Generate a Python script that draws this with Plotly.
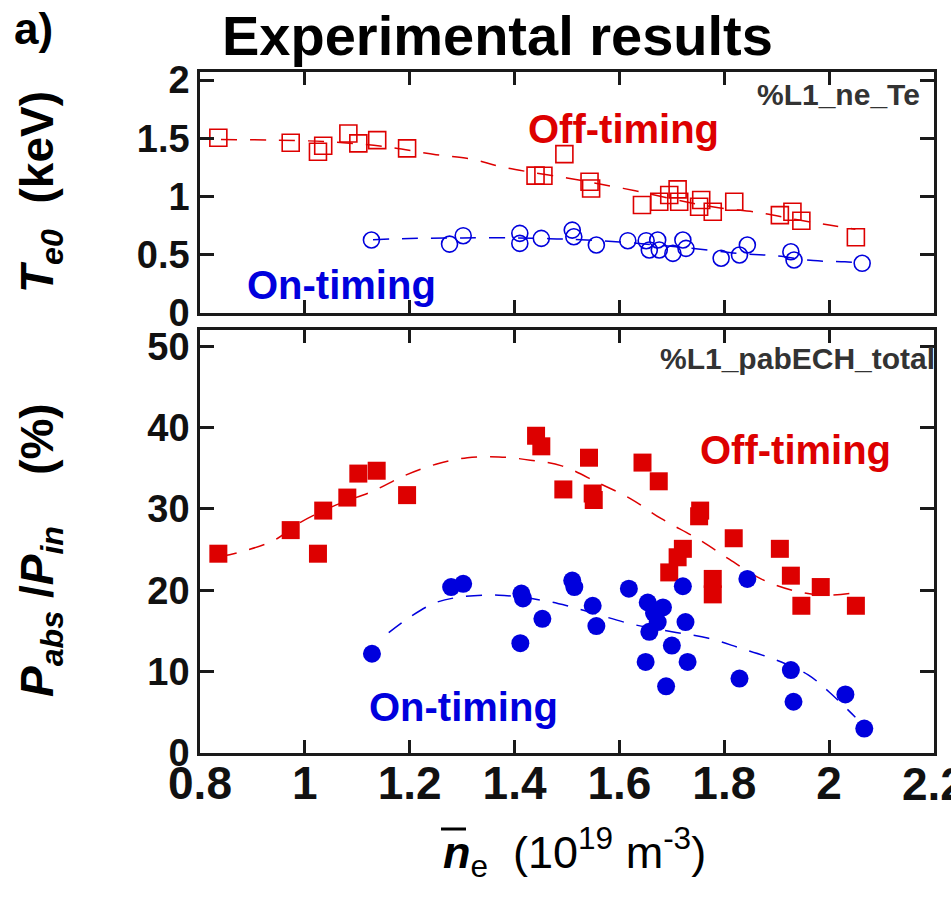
import plotly.graph_objects as go

# ---------------- data ----------------
# central electron temperature (keV) vs line-averaged density (1e19 m^-3)
te_off_x = [0.835, 0.973, 1.025, 1.035, 1.083, 1.102, 1.138, 1.195, 1.440, 1.455,
            1.495, 1.543, 1.546, 1.643, 1.676, 1.695, 1.711, 1.714, 1.752, 1.756,
            1.778, 1.819, 1.906, 1.930, 1.947, 2.051]
te_off_y = [1.505, 1.462, 1.385, 1.436, 1.542, 1.457, 1.485, 1.414, 1.180, 1.179,
            1.365, 1.127, 1.070, 0.927, 0.955, 1.013, 1.062, 0.955, 0.912, 0.970,
            0.870, 0.955, 0.841, 0.870, 0.792, 0.650]

te_on_x = [1.127, 1.276, 1.302, 1.410, 1.410, 1.451, 1.510, 1.513, 1.556, 1.616,
           1.651, 1.657, 1.673, 1.676, 1.702, 1.721, 1.727, 1.794, 1.829, 1.844,
           1.927, 1.933, 2.063]
te_on_y = [0.627, 0.592, 0.664, 0.684, 0.598, 0.641, 0.712, 0.655, 0.584, 0.621,
           0.621, 0.541, 0.627, 0.541, 0.512, 0.627, 0.555, 0.470, 0.498, 0.584,
           0.526, 0.455, 0.427]

te_off_fit_x = [0.84, 0.94, 1.05, 1.15, 1.25, 1.32, 1.37, 1.43, 1.50, 1.56, 1.63,
                1.70, 1.78, 1.87, 1.94, 2.00, 2.05]
te_off_fit_y = [1.49, 1.485, 1.47, 1.43, 1.36, 1.32, 1.26, 1.21, 1.16, 1.11, 1.05,
                0.98, 0.91, 0.86, 0.80, 0.755, 0.72]

te_on_fit_x = [1.13, 1.20, 1.30, 1.40, 1.45, 1.50, 1.60, 1.68, 1.75, 1.83, 1.90,
               1.97, 2.03, 2.06]
te_on_fit_y = [0.63, 0.64, 0.645, 0.645, 0.64, 0.635, 0.61, 0.58, 0.55, 0.51, 0.49,
               0.45, 0.44, 0.43]

# absorbed ECH power fraction (%)
pab_off_x = [0.835, 0.973, 1.025, 1.035, 1.081, 1.102, 1.137, 1.195, 1.441, 1.451,
             1.493, 1.542, 1.549, 1.551, 1.644, 1.675, 1.695, 1.711, 1.721, 1.752,
             1.754, 1.778, 1.778, 1.818, 1.906, 1.927, 1.947, 1.984, 2.051]
pab_off_y = [24.5, 27.4, 24.5, 29.8, 31.4, 34.35, 34.7, 31.7, 39.0, 37.7,
             32.4, 36.3, 31.9, 31.1, 35.7, 33.4, 22.2, 24.06, 25.1, 29.1,
             29.8, 21.4, 19.5, 26.4, 25.1, 21.8, 18.1, 20.4, 18.1]

pab_on_x = [1.128, 1.279, 1.302, 1.413, 1.416, 1.411, 1.453, 1.510, 1.514, 1.549,
            1.556, 1.618, 1.654, 1.683, 1.673, 1.657, 1.666, 1.700, 1.650, 1.730,
            1.689, 1.721, 1.726, 1.829, 1.844, 1.927, 1.932, 2.031, 2.067]
pab_on_y = [12.2, 20.4, 20.8, 19.6, 19.0, 13.5, 16.5, 21.2, 20.4, 18.1,
            15.6, 20.2, 18.5, 17.9, 16.1, 14.9, 17.2, 13.2, 11.2, 11.2,
            8.2, 20.5, 16.1, 9.15, 21.4, 10.2, 6.3, 7.2, 3.0]

pab_off_fit_x = [0.84, 0.87, 0.94, 0.99, 1.06, 1.13, 1.19, 1.25, 1.31, 1.37, 1.43,
                 1.49, 1.56, 1.62, 1.68, 1.75, 1.81, 1.87, 1.93, 1.99, 2.05]
pab_off_fit_y = [24.2, 24.6, 26.1, 28.3, 30.5, 32.2, 34.1, 35.5, 36.3, 36.4, 36.0,
                 35.3, 33.2, 31.3, 28.8, 26.3, 23.8, 21.4, 20.0, 19.4, 19.7]

pab_on_fit_x = [1.16, 1.20, 1.25, 1.30, 1.37, 1.45, 1.50, 1.55, 1.62, 1.70, 1.77,
                1.83, 1.90, 1.96, 2.00, 2.05]
pab_on_fit_y = [14.8, 16.7, 18.5, 19.2, 19.4, 18.8, 18.1, 17.2, 15.9, 14.9, 14.1,
                12.9, 11.4, 9.6, 7.5, 4.4]

X_RANGE = [0.8, 2.2]
X_EDGE_LABEL = 2.2          # last density label, sits on the right frame
TE_RANGE = [0, 2.07]
PAB_RANGE = [0, 52]

# ---------------- styling ----------------
RED = "#dd0000"
BLUE = "#0000dd"
INK = "#1a1a1a"
W, H = 951, 909
L, R, T, B = 200, 17, 72, 156
PW, PH = W - L - R, H - T - B

def fx(p):
    return (p - L) / PW

def fy(p):
    return (H - B - p) / PH

SANS = "Liberation Sans, Arial, Helvetica, sans-serif"
DASH = "16px,13px"

fig = go.Figure()

def add_points(x, y, symbol, color, size, xa, ya, lw=1.6):
    fig.add_trace(go.Scatter(
        x=x, y=y, mode="markers", xaxis=xa, yaxis=ya, showlegend=False,
        marker=dict(symbol=symbol, size=size, color=color,
                    line=dict(color=color, width=lw))))

def add_fit(x, y, color, xa, ya):
    fig.add_trace(go.Scatter(
        x=x, y=y, mode="lines", xaxis=xa, yaxis=ya, showlegend=False,
        line=dict(color=color, width=1.5, dash=DASH, shape="spline")))

# top panel: Te0
add_fit(te_off_fit_x, te_off_fit_y, RED, "x", "y")
add_fit(te_on_fit_x, te_on_fit_y, BLUE, "x", "y")
add_points(te_off_x, te_off_y, "square-open", RED, 17, "x", "y")
add_points(te_on_x, te_on_y, "circle-open", BLUE, 16, "x", "y")

# bottom panel: Pabs/Pin
add_fit(pab_off_fit_x, pab_off_fit_y, RED, "x2", "y2")
add_fit(pab_on_fit_x, pab_on_fit_y, BLUE, "x2", "y2")
add_points(pab_off_x, pab_off_y, "square", RED, 18, "x2", "y2", lw=0)
add_points(pab_on_x, pab_on_y, "circle", BLUE, 18, "x2", "y2", lw=0)

frame = dict(showline=True, linecolor=INK, linewidth=2.5, mirror="ticks",
             ticks="inside", tickcolor=INK, tickwidth=2.5,
             showgrid=False, zeroline=False, automargin=False)
# secondary y axes carrying only the short intermediate ticks
fine = dict(showline=False, mirror="ticks", ticks="inside", tickcolor=INK,
            tickwidth=2, ticklen=9, showticklabels=False, showgrid=False,
            zeroline=False, side="left", automargin=False)
yfont = dict(family=SANS, size=38, color="#111", weight="bold")
xfont = dict(family=SANS, size=46, color="#111", weight="bold")

TOP_DOM = [fy(313), 1]
BOT_DOM = [0, fy(330)]

fig.update_layout(
    width=W, height=H,
    margin=dict(l=L, r=R, t=T, b=B, pad=0, autoexpand=False),
    paper_bgcolor="white", plot_bgcolor="white",
    xaxis=dict(domain=[0, 1], anchor="y", range=X_RANGE,
               tick0=0.8, dtick=0.2, ticklen=13, showticklabels=False, **frame),
    yaxis=dict(domain=TOP_DOM, anchor="x", range=TE_RANGE,
               tick0=0, dtick=0.5, ticklen=14, tickfont=yfont, **frame),
    yaxis3=dict(overlaying="y", anchor="x", range=TE_RANGE, tick0=0, dtick=0.1, **fine),
    xaxis2=dict(domain=[0, 1], anchor="y2", range=X_RANGE,
                tick0=0.8, dtick=0.2, ticklen=13, tickfont=xfont,
                ticklabelstandoff=-12, **frame),
    yaxis2=dict(domain=BOT_DOM, anchor="x2", range=PAB_RANGE,
                tick0=0, dtick=10, ticklen=14, tickfont=yfont, **frame),
    yaxis4=dict(overlaying="y2", anchor="x2", range=PAB_RANGE, tick0=0, dtick=2, **fine),
)

ann = []
# title and panel tag
ann.append(dict(text="<b>Experimental results</b>", x=fx(497), y=fy(35),
                font=dict(family=SANS, size=56, color="black")))
ann.append(dict(text="<b>a)</b>", x=fx(33), y=fy(29),
                font=dict(family=SANS, size=44, color="black")))

# right-most density label on the frame edge
ann.append(dict(text=f"<b>{X_EDGE_LABEL:g}</b>", x=X_EDGE_LABEL, xref="x2",
                y=fy(784), font=xfont))

# in-panel labels
ann.append(dict(text="<b>Off-timing</b>", x=1.608, y=1.579, xref="x", yref="y",
                font=dict(family=SANS, size=40, color=RED)))
ann.append(dict(text="<b>On-timing</b>", x=1.070, y=0.24, xref="x", yref="y",
                font=dict(family=SANS, size=40, color=BLUE)))
ann.append(dict(text="<b>Off-timing</b>", x=1.935, y=37.25, xref="x2", yref="y2",
                font=dict(family=SANS, size=40, color=RED)))
ann.append(dict(text="<b>On-timing</b>", x=1.303, y=5.64, xref="x2", yref="y2",
                font=dict(family=SANS, size=40, color=BLUE)))
ann.append(dict(text="<b>%L1_ne_Te</b>", x=fx(922), y=fy(94), xanchor="right",
                font=dict(family=SANS, size=30, color="#333")))
ann.append(dict(text="<b>%L1_pabECH_total</b>", x=fx(937), y=fy(359), xanchor="right",
                font=dict(family=SANS, size=30, color="#333")))

# axis titles
ann.append(dict(text="<b><i>T</i></b><sub><i><b>e0</b></i></sub>\u00a0\u00a0<b>(keV)</b>",
                x=fx(40), y=fy(192), textangle=-90,
                font=dict(family=SANS, size=46, color="black")))
ann.append(dict(text="<b><i>P</i></b><sub><i><b>abs</b></i></sub><b>\u00a0/<i>P</i></b>"
                     "<sub><i><b>in</b></i></sub>\u00a0\u00a0\u00a0\u00a0<b>(%)</b>",
                x=fx(40), y=fy(550), textangle=-90,
                font=dict(family=SANS, size=46, color="black")))
ann.append(dict(text="<b><i>n</i></b><sub>e</sub>\u00a0\u00a0(10<sup>19</sup> m<sup>-3</sup>)",
                x=fx(574), y=fy(852),
                font=dict(family=SANS, size=45, color="black")))

for a in ann:
    a.setdefault("xref", "paper")
    a.setdefault("yref", "paper")
    a.setdefault("xanchor", "center")
    a.setdefault("yanchor", "middle")
    a["showarrow"] = False
fig.update_layout(annotations=ann)

# bar over the density symbol
fig.add_shape(type="line", xref="paper", yref="paper",
              x0=fx(441), x1=fx(466), y0=fy(829), y1=fy(829),
              line=dict(color="black", width=3))

fig.write_html("out.html")
